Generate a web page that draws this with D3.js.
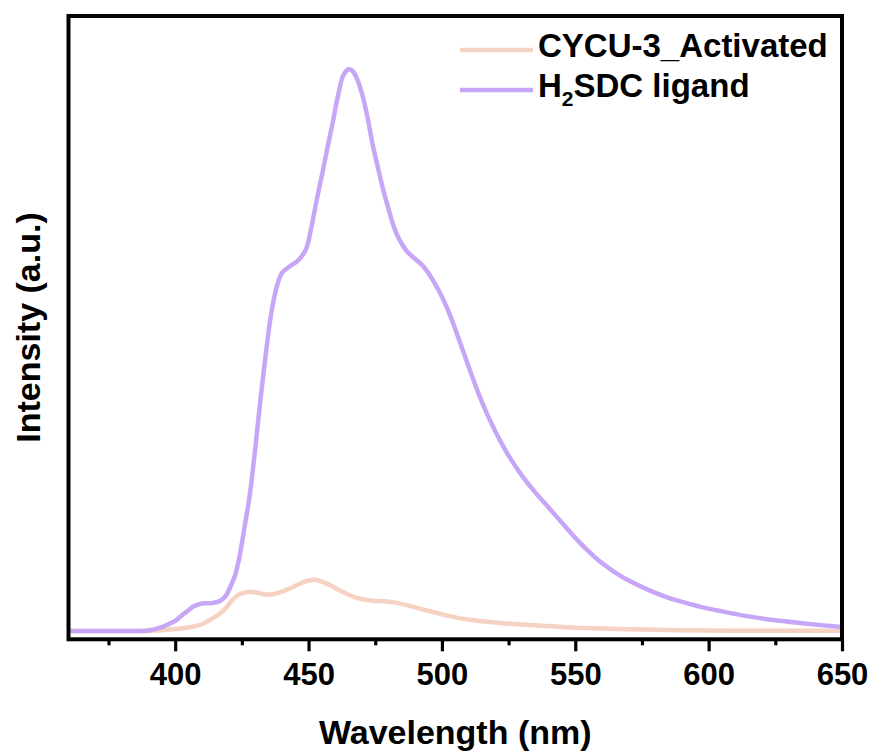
<!DOCTYPE html>
<html>
<head>
<meta charset="utf-8">
<script src="https://cdn.jsdelivr.net/npm/d3@7/dist/d3.min.js"></script>
<style>
  html, body { margin: 0; padding: 0; background: #fff; }
  svg { display: block; }
  text { font-family: "Liberation Sans", Arial, sans-serif; font-weight: bold; fill: #000; }
</style>
</head>
<body>
<svg id="chart" width="874" height="753"></svg>
<script>
// Emission spectra (wavelength in nm, intensity in arbitrary units)
const ligandWl = [360, 380, 390, 395, 397, 400, 402, 405, 407, 410, 414, 417, 419, 421, 422.5, 424, 426, 428, 430, 432, 434, 436, 438, 440, 443, 446, 449, 451, 453, 455, 457, 459, 461, 463, 465, 466.5, 468, 470, 472, 474, 476, 478, 480, 482, 484, 487, 490, 493, 496, 499, 502, 505, 508, 511, 514, 517, 520, 523, 526, 530, 535, 540, 545, 550, 555, 560, 565, 570, 578, 585, 590, 597, 605, 615, 625, 635, 643, 650];
const ligandI  = [0, 0, 1, 7, 11, 18, 26, 37, 44, 49, 50, 54, 63, 82, 100, 130, 185, 244, 325, 414, 495, 566, 612, 638, 650, 660, 680, 718, 767, 812, 859, 905, 953, 990, 1001, 998, 986, 958, 918, 868, 826, 786, 752, 720, 698, 676, 663, 650, 630, 605, 575, 538, 498, 458, 420, 386, 356, 329, 305, 277, 247, 220, 193, 166, 142, 121, 104, 90, 72, 59, 52, 43, 35, 26, 19, 14, 10, 7];

const mofWl = [360, 385, 391, 395, 399, 403, 407, 410, 412, 415, 417, 419, 421, 423, 425, 428, 431, 434, 437, 440, 444, 448, 451, 453, 455, 458, 461, 464, 467, 470, 474, 478, 482, 486, 490, 494, 499, 503, 507, 512, 518, 524, 530, 537, 544, 550, 560, 575, 590, 610, 650];
const mofI  = [0, 0, 0.5, 1.5, 3, 5, 8, 12, 17, 25, 32, 41, 53, 62, 67, 70, 68, 65, 66, 70, 78, 87, 91, 91, 88, 82, 74, 67, 61, 57, 54, 53, 51, 47, 42, 37, 31, 26.5, 22.5, 19, 16, 13.5, 11.5, 9.5, 7.5, 6, 4.3, 2.5, 1.3, 0.6, 0.3];

const seriesNames  = ["CYCU-3_Activated", "H2SDC ligand"];
const seriesColors = ["#F6D2C2", "#C7A6F7"];

const majorTicks = [400, 450, 500, 550, 600, 650];
const minorTicks = [375, 425, 475, 525, 575, 625];

const xDomain = [360, 650];
const yDomain = [-14.8, 1096];

// Layout
const plot = { left: 68.5, right: 842, top: 16, bottom: 639.3 };
const svg = d3.select("#chart");

const x = d3.scaleLinear().domain(xDomain).range([plot.left, plot.right]);
const y = d3.scaleLinear().domain(yDomain).range([plot.bottom, plot.top]);

svg.append("defs").append("clipPath").attr("id", "plotClip")
  .append("rect")
  .attr("x", plot.left).attr("y", plot.top)
  .attr("width", plot.right - plot.left).attr("height", plot.bottom - plot.top);

const line = d3.line()
  .x(d => x(d[0]))
  .y(d => y(d[1]))
  .curve(d3.curveCatmullRom.alpha(0.5));

const series = [
  { name: seriesNames[0], color: seriesColors[0], pts: d3.zip(mofWl, mofI) },
  { name: seriesNames[1], color: seriesColors[1], pts: d3.zip(ligandWl, ligandI) }
];

const lines = svg.append("g").attr("clip-path", "url(#plotClip)");
series.forEach(s => {
  lines.append("path")
    .datum(s.pts)
    .attr("fill", "none")
    .attr("stroke", s.color)
    .attr("stroke-width", 4.5)
    .attr("stroke-linejoin", "round")
    .attr("stroke-linecap", "round")
    .attr("d", line);
});

// Bottom axis: major ticks with labels, minor ticks without
const majorAxis = d3.axisBottom(x)
  .tickValues(majorTicks)
  .tickSize(12)
  .tickPadding(12)
  .tickFormat(d3.format("d"));

const minorAxis = d3.axisBottom(x)
  .tickValues(minorTicks)
  .tickSize(6)
  .tickFormat("");

const gMinor = svg.append("g").attr("transform", `translate(0,${plot.bottom})`).call(minorAxis);
const gMajor = svg.append("g").attr("transform", `translate(0,${plot.bottom})`).call(majorAxis);
[gMinor, gMajor].forEach(g => {
  g.select(".domain").remove();
  g.selectAll(".tick line").attr("stroke", "#000").attr("stroke-width", 3.2);
});
gMajor.selectAll(".tick text")
  .attr("font-size", 31)
  .attr("font-family", "Liberation Sans, Arial, sans-serif")
  .attr("font-weight", "bold")
  .attr("fill", "#000");

// Frame
svg.append("rect")
  .attr("x", plot.left).attr("y", plot.top)
  .attr("width", plot.right - plot.left).attr("height", plot.bottom - plot.top)
  .attr("fill", "none").attr("stroke", "#000").attr("stroke-width", 4);

// Axis titles
svg.append("text")
  .attr("x", (plot.left + plot.right) / 2)
  .attr("y", 744)
  .attr("text-anchor", "middle")
  .attr("font-size", 34)
  .text("Wavelength (nm)");

svg.append("text")
  .attr("transform", "translate(40,327.5) rotate(-90)")
  .attr("text-anchor", "middle")
  .attr("font-size", 34)
  .text("Intensity (a.u.)");

// Legend
const legend = svg.append("g");
const rowY = [50, 90];
series.forEach((s, i) => {
  legend.append("line")
    .attr("x1", 460).attr("x2", 533)
    .attr("y1", rowY[i]).attr("y2", rowY[i])
    .attr("stroke", s.color).attr("stroke-width", 4.5);
});
legend.append("text")
  .attr("x", 538).attr("y", 57)
  .attr("font-size", 33)
  .text(seriesNames[0]);
const t2 = legend.append("text")
  .attr("x", 538).attr("y", 97)
  .attr("font-size", 33);
t2.append("tspan").text("H");
t2.append("tspan").attr("font-size", 21).attr("dy", 9).text("2");
t2.append("tspan").attr("dy", -9).text("SDC ligand");
</script>
</body>
</html>
